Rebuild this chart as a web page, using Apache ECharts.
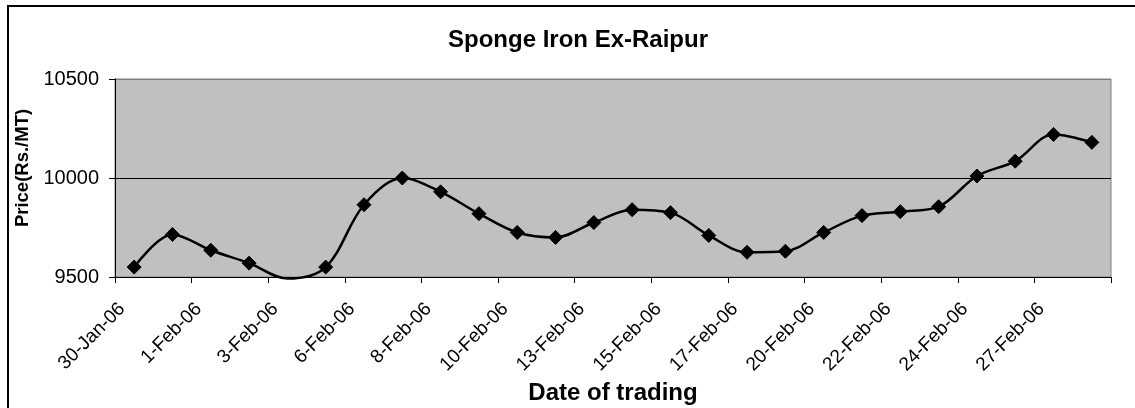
<!DOCTYPE html>
<html>
<head>
<meta charset="utf-8">
<script src="https://cdn.jsdelivr.net/npm/echarts@6/dist/echarts.min.js"></script>
<style>
html,body{margin:0;padding:0;background:#fff;}
#chart{width:1135px;height:408px;}
</style>
</head>
<body>
<div id="chart"></div>
<script>
const categories = ["30-Jan-06","31-Jan-06","1-Feb-06","2-Feb-06","3-Feb-06","4-Feb-06",
  "6-Feb-06","7-Feb-06","8-Feb-06","9-Feb-06","10-Feb-06","11-Feb-06",
  "13-Feb-06","14-Feb-06","15-Feb-06","16-Feb-06","17-Feb-06","18-Feb-06",
  "20-Feb-06","21-Feb-06","22-Feb-06","23-Feb-06","24-Feb-06","25-Feb-06",
  "27-Feb-06","28-Feb-06"];
const prices = [9550,9715,9635,9570,9492,9550,9865,10000,9930,9820,9725,9700,
  9775,9840,9825,9710,9625,9630,9725,9810,9830,9855,10010,10085,10220,10180];
const yTicks = {min: 9500, max: 10500, interval: 500};
const titleText = "Sponge Iron Ex-Raipur";
const xName = "Date of trading";
const yName = "Price(Rs./MT)";

const font = "Arial, 'Liberation Sans', sans-serif";
const chart = echarts.init(document.getElementById('chart'), null, {renderer: 'canvas'});
chart.setOption({
  backgroundColor: '#fff',
  animation: false,
  title: {
    text: titleText,
    left: 573, top: 23, textAlign: 'center',
    textStyle: {fontFamily: font, fontWeight: 'bold', fontSize: 24, color: '#000'}
  },
  graphic: [{
    type: 'rect', silent: true, z: -1,
    shape: {x: 8, y: 6, width: 1300, height: 600},
    style: {fill: null, stroke: '#000', lineWidth: 2}
  }],
  grid: {
    left: 115, right: 24, top: 79, bottom: 131,
    show: true, backgroundColor: '#C0C0C0', borderColor: '#808080', borderWidth: 1
  },
  xAxis: {
    type: 'category', data: categories, boundaryGap: true,
    name: xName, nameLocation: 'middle', nameGap: 104,
    nameTextStyle: {fontFamily: font, fontWeight: 'bold', fontSize: 24, color: '#000'},
    axisLine: {lineStyle: {color: '#000', width: 1}},
    axisTick: {show: true, length: 6, lineStyle: {color: '#000'}},
    axisLabel: {interval: 1, rotate: 45, margin: 17, padding: [0, 17, 0, 0],
      fontFamily: font, fontSize: 19, color: '#000'},
    splitLine: {show: false}
  },
  yAxis: {
    type: 'value', min: yTicks.min, max: yTicks.max, interval: yTicks.interval,
    name: yName, nameLocation: 'middle', nameGap: 81,
    nameTextStyle: {fontFamily: font, fontWeight: 'bold', fontSize: 18.5, color: '#000', padding: [0, 0, 0, 20]},
    axisLine: {show: true, lineStyle: {color: '#000', width: 1}},
    axisTick: {show: true, length: 6, lineStyle: {color: '#000'}},
    axisLabel: {margin: 16, fontFamily: font, fontSize: 20, color: '#000',
      formatter: v => String(v)},
    splitLine: {show: true, lineStyle: {color: ['#000', '#000', '#808080'], width: 1}}
  },
  series: [{
    type: 'line', data: prices.map((v, i) => i === 4 ? {value: v, symbol: 'none'} : v),
    smooth: 0.34, clip: false,
    symbol: 'diamond', symbolSize: 14,
    lineStyle: {color: '#000', width: 2.5},
    itemStyle: {color: '#000', borderColor: '#000'}
  }]
});
</script>
</body>
</html>
